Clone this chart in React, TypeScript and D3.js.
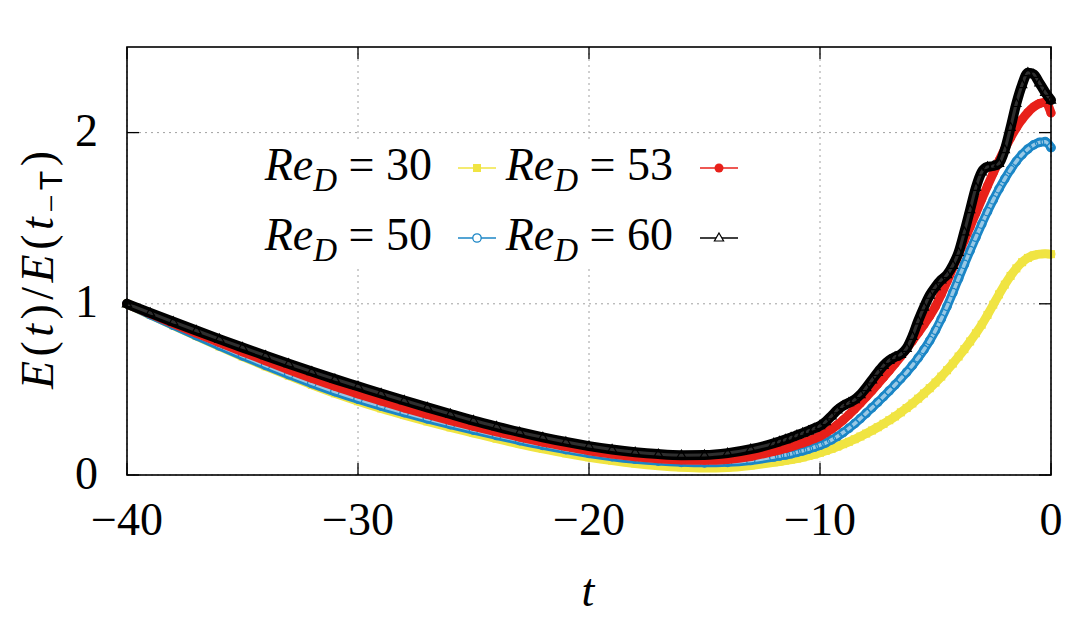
import React from 'react';
import * as d3 from 'd3';

// time samples (coarse on the slow decay, finer on the growth phase)
const tValues = [
  -40, -39, -38, -37, -36, -35, -34, -33, -32, -31, -30, -29, -28, -27,
  -26, -25, -24, -23, -22, -21, -20, -19, -18, -17, -16, -15, -14, -13,
  -12, -11.75, -11.5, -11.25, -11, -10.75, -10.5, -10.25, -10, -9.75, -9.5, -9.25,
  -9, -8.75, -8.5, -8.25, -8, -7.75, -7.5, -7.25, -7, -6.75, -6.5, -6.25,
  -6, -5.75, -5.5, -5.25, -5, -4.75, -4.5, -4.25, -4, -3.75, -3.5, -3.25,
  -3, -2.75, -2.5, -2.25, -2, -1.75, -1.5, -1.25, -1, -0.75, -0.5, -0.25, 0,
];

const re30 = [
  1.0, 0.937, 0.874, 0.812, 0.751, 0.692, 0.635, 0.58, 0.527, 0.477, 0.431, 0.389, 0.35, 0.313,
  0.278, 0.245, 0.212, 0.181, 0.153, 0.127, 0.104, 0.084, 0.067, 0.054, 0.045, 0.041, 0.044, 0.056,
  0.074, 0.079, 0.084, 0.09, 0.096, 0.103, 0.111, 0.12, 0.13, 0.141, 0.153, 0.166,
  0.18, 0.194, 0.209, 0.225, 0.242, 0.26, 0.279, 0.299, 0.32, 0.342, 0.366, 0.391,
  0.418, 0.446, 0.476, 0.507, 0.54, 0.575, 0.612, 0.651, 0.692, 0.735, 0.78, 0.828,
  0.878, 0.935, 0.995, 1.055, 1.112, 1.163, 1.207, 1.243, 1.268, 1.283, 1.29, 1.292, 1.29,
];

const re50 = [
  1.0, 0.937, 0.875, 0.814, 0.754, 0.696, 0.64, 0.586, 0.535, 0.487, 0.443, 0.402, 0.364, 0.328,
  0.294, 0.262, 0.231, 0.201, 0.173, 0.148, 0.126, 0.107, 0.092, 0.081, 0.074, 0.071, 0.074, 0.085,
  0.105, 0.111, 0.117, 0.124, 0.132, 0.141, 0.151, 0.162, 0.174, 0.188, 0.205, 0.225,
  0.248, 0.273, 0.3, 0.33, 0.361, 0.393, 0.425, 0.458, 0.492, 0.527, 0.563, 0.6,
  0.64, 0.684, 0.732, 0.785, 0.845, 0.912, 0.985, 1.065, 1.148, 1.23, 1.311, 1.389,
  1.465, 1.538, 1.607, 1.671, 1.73, 1.784, 1.832, 1.872, 1.904, 1.928, 1.943, 1.947, 1.912,
];

const re53 = [
  1.0, 0.942, 0.885, 0.829, 0.774, 0.72, 0.667, 0.615, 0.565, 0.518, 0.474, 0.432, 0.392, 0.354,
  0.318, 0.284, 0.252, 0.221, 0.192, 0.166, 0.142, 0.122, 0.106, 0.095, 0.088, 0.086, 0.091, 0.108,
  0.138, 0.146, 0.155, 0.165, 0.176, 0.187, 0.199, 0.212, 0.227, 0.246, 0.268, 0.293,
  0.321, 0.352, 0.385, 0.42, 0.456, 0.493, 0.531, 0.57, 0.61, 0.651, 0.693, 0.737,
  0.783, 0.83, 0.878, 0.928, 0.985, 1.055, 1.13, 1.21, 1.29, 1.37, 1.45, 1.53,
  1.61, 1.689, 1.764, 1.836, 1.905, 1.97, 2.028, 2.077, 2.118, 2.15, 2.17, 2.178, 2.115,
];

const re60 = [
  1.0, 0.947, 0.895, 0.844, 0.794, 0.745, 0.697, 0.65, 0.604, 0.56, 0.518, 0.476, 0.435, 0.395,
  0.356, 0.318, 0.283, 0.25, 0.22, 0.193, 0.169, 0.149, 0.133, 0.122, 0.116, 0.117, 0.128, 0.151,
  0.185, 0.196, 0.207, 0.219, 0.232, 0.245, 0.258, 0.272, 0.288, 0.312, 0.345, 0.38,
  0.405, 0.422, 0.44, 0.47, 0.51, 0.555, 0.6, 0.64, 0.67, 0.69, 0.705, 0.74,
  0.81, 0.9, 0.98, 1.05, 1.1, 1.14, 1.17, 1.225, 1.3, 1.42, 1.55, 1.68,
  1.77, 1.8, 1.805, 1.82, 1.9, 2.03, 2.17, 2.28, 2.35, 2.34, 2.29, 2.235, 2.19,
];

const reLabels = ['30', '50', '53', '60'];
const xTicks = [-40, -30, -20, -10, 0];
const yTicks = [0, 1, 2];

const YELLOW = '#f0e442';
const BLUE = '#1b86c6';
const RED = '#e8201a';
const BLACK = '#000000';

const SERIF = '"Liberation Serif", "Times New Roman", serif';

type MarkerKind = 'square' | 'ring' | 'dot' | 'triangle';

function Marker({ kind, color, cx, cy, legend }: { kind: MarkerKind; color: string; cx: number; cy: number; legend?: boolean }) {
  if (kind === 'square') return <rect x={cx - 4} y={cy - 4} width={8} height={8} fill={color} />;
  if (kind === 'dot') return <circle cx={cx} cy={cy} r={4.5} fill={color} />;
  if (kind === 'ring')
    return <circle cx={cx} cy={cy} r={4.2} fill={legend ? '#fff' : 'none'} stroke={color} strokeWidth={1.3} />;
  return (
    <path
      d={`M${cx},${cy - 5} L${cx + 4.6},${cy + 3} L${cx - 4.6},${cy + 3} Z`}
      fill={legend ? '#fff' : 'none'}
      stroke={color}
      strokeWidth={1.2}
    />
  );
}

export default function App() {
  const x = d3.scaleLinear().domain([-40, 0]).range([127, 1051]);
  const y = d3.scaleLinear().domain([0, 2.5]).range([475, 47]);
  const [x0, x1] = x.range();
  const [yB, yT] = y.range();

  const line = d3
    .line<number>()
    .x((_, i) => x(tValues[i]))
    .y((d) => y(d))
    .curve(d3.curveMonotoneX);

  const series: { label: string; values: number[]; color: string; kind: MarkerKind; width: number; inner: number; innerOp: number }[] = [
    { label: reLabels[0], values: re30, color: YELLOW, kind: 'square', width: 9, inner: 0, innerOp: 0 },
    { label: reLabels[1], values: re50, color: BLUE, kind: 'ring', width: 9, inner: 3.5, innerOp: 0.55 },
    { label: reLabels[2], values: re53, color: RED, kind: 'dot', width: 9, inner: 0, innerOp: 0 },
    { label: reLabels[3], values: re60, color: BLACK, kind: 'triangle', width: 10, inner: 3, innerOp: 0.18 },
  ];

  // legend layout: column 0 -> 30, 50 ; column 1 -> 53, 60
  const legendPos = [
    { textEnd: 432, lineX: 458, rowY: 168 },
    { textEnd: 432, lineX: 458, rowY: 238 },
    { textEnd: 673, lineX: 700, rowY: 168 },
    { textEnd: 673, lineX: 700, rowY: 238 },
  ];

  const tickLen = 12;

  return (
    <svg
      width={1080}
      height={617}
      viewBox="0 0 1080 617"
      style={{ position: 'absolute', left: 0, top: 0, background: '#fff' }}
      fontFamily={SERIF}
    >
      <rect x={0} y={0} width={1080} height={617} fill="#fff" />

      {/* grid */}
      <g stroke="#a0a0a0" strokeWidth={1} strokeDasharray="2,4">
        {xTicks.map((t) => (
          <line key={'gx' + t} x1={x(t)} x2={x(t)} y1={yB} y2={yT} />
        ))}
        {yTicks.map((v) => (
          <line key={'gy' + v} x1={x0} x2={x1} y1={y(v)} y2={y(v)} />
        ))}
      </g>

      {/* legend background */}
      <rect x={246} y={140} width={500} height={126} fill="#fff" />

      {/* series */}
      {series.map((s) => (
        <g key={'s' + s.label}>
          <path
            d={line(s.values) || ''}
            fill="none"
            stroke={s.color}
            strokeWidth={s.width}
            strokeLinejoin="round"
            strokeLinecap="round"
          />
          {s.inner > 0 && (
            <path
              d={line(s.values) || ''}
              fill="none"
              stroke="#fff"
              strokeOpacity={s.innerOp}
              strokeWidth={s.inner}
              strokeLinejoin="round"
            />
          )}
          {s.values.map((v, i) => (
            <Marker key={i} kind={s.kind} color={s.color} cx={x(tValues[i])} cy={y(v)} />
          ))}
        </g>
      ))}

      {/* legend */}
      {series.map((s, i) => {
        const p = legendPos[i];
        return (
          <g key={'lg' + s.label}>
            <text x={p.textEnd} y={p.rowY + 12} fontSize={46} textAnchor="end" style={{ whiteSpace: 'pre' }}>
              <tspan fontStyle="italic">Re</tspan>
              <tspan fontStyle="italic" fontSize={33} dy={11}>
                D
              </tspan>
              <tspan dy={-11}>{' = ' + s.label}</tspan>
            </text>
            <line x1={p.lineX} x2={p.lineX + 38} y1={p.rowY} y2={p.rowY} stroke={s.color} strokeWidth={1.5} />
            <Marker kind={s.kind} color={s.color} cx={p.lineX + 19} cy={p.rowY} legend />
          </g>
        );
      })}

      {/* ticks */}
      <g stroke="#000" strokeWidth={1.3}>
        {xTicks.map((t) => (
          <g key={'tx' + t}>
            <line x1={x(t)} x2={x(t)} y1={yB} y2={yB - tickLen} />
            <line x1={x(t)} x2={x(t)} y1={yT} y2={yT + tickLen} />
          </g>
        ))}
        {yTicks.map((v) => (
          <g key={'ty' + v}>
            <line x1={x0} x2={x0 + tickLen} y1={y(v)} y2={y(v)} />
            <line x1={x1} x2={x1 - tickLen} y1={y(v)} y2={y(v)} />
          </g>
        ))}
      </g>

      {/* frame */}
      <rect x={x0} y={yT} width={x1 - x0} height={yB - yT} fill="none" stroke="#000" strokeWidth={1.6} />

      {/* tick labels */}
      {xTicks.map((t) => (
        <text key={'lx' + t} x={x(t)} y={535} fontSize={46} textAnchor="middle">
          {t < 0 ? '\u2212' + Math.abs(t) : String(t)}
        </text>
      ))}
      {yTicks.map((v) => (
        <text key={'ly' + v} x={98} y={y(v) + 13.5} fontSize={46} textAnchor="end">
          {String(v)}
        </text>
      ))}

      {/* axis labels */}
      <text x={588} y={606} fontSize={46} fontStyle="italic" textAnchor="middle">
        t
      </text>
      <text
        transform="translate(53,270) rotate(-90)"
        fontSize={46}
        textAnchor="middle"
        textLength={238}
        lengthAdjust="spacing"
      >
        <tspan fontStyle="italic">E</tspan>
        <tspan>(</tspan>
        <tspan fontStyle="italic">t</tspan>
        <tspan>)/</tspan>
        <tspan fontStyle="italic">E</tspan>
        <tspan>(</tspan>
        <tspan fontStyle="italic">t</tspan>
        <tspan fontSize={32} dy={9}>
          {'\u2212'}
        </tspan>
        <tspan fontSize={32} fontFamily='"Liberation Sans", sans-serif'>
          T
        </tspan>
        <tspan dy={-9}>)</tspan>
      </text>
    </svg>
  );
}
